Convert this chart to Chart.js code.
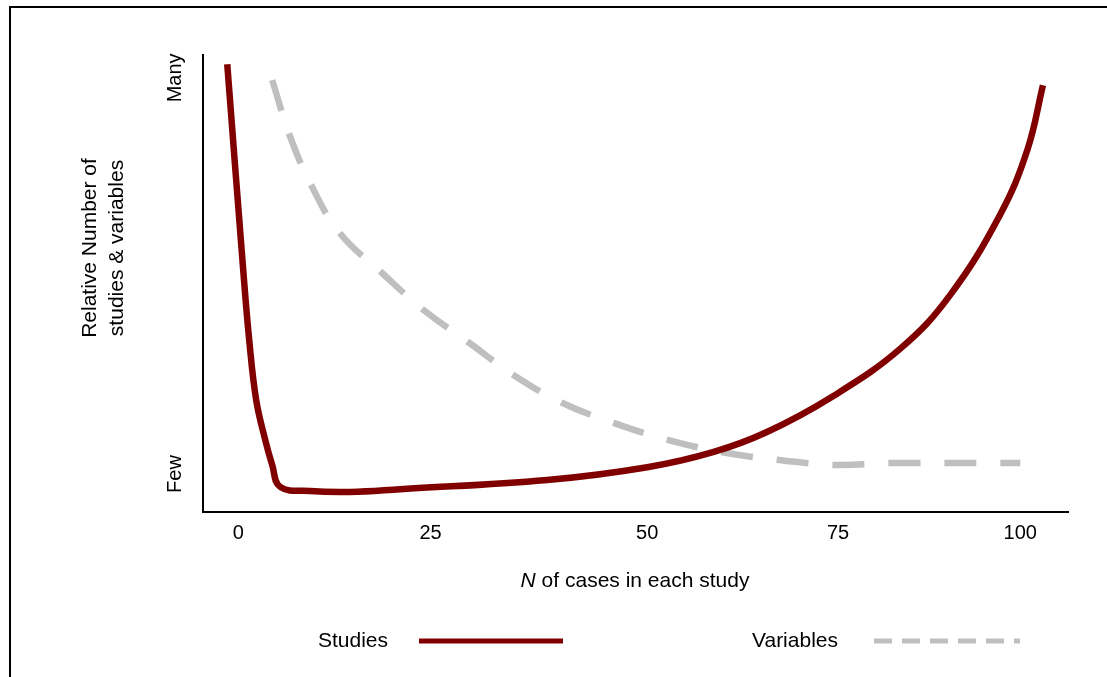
<!DOCTYPE html>
<html lang="en">
<head>
    <meta charset="UTF-8">
    <title>Studies and variables by N of cases</title>
    <script src="https://cdn.jsdelivr.net/npm/chart.js"></script>
    <style>
        body { margin: 0; background: #fff; }
        .frame { position: absolute; left: 9px; top: 6px; width: 1200px; height: 800px; border: 2px solid #000; }
        #chart { position: absolute; left: 0; top: 0; }
    </style>
</head>
<body>
    <div class="frame"></div>
    <canvas id="chart" width="1107" height="677"></canvas>

    <script>
        // Data (x = N of cases, y = relative level 0-100)
        const studiesN = [-1.4, 0.64, 1.41, 2.3, 3.45, 4.35, 5.37, 9.2, 14.3, 20.7, 39.5, 52.3, 60.7, 67.6, 76.1, 84.7, 91.0, 97.4, 100.9, 102.9];
        const studiesLevel = [98.0, 53.0, 37.6, 24.5, 15.8, 10.3, 5.5, 4.6, 4.4, 5.0, 7.0, 9.8, 13.1, 17.5, 25.4, 35.8, 47.4, 65.0, 79.2, 93.4];
        const variablesN = [4.35, 6.65, 9.46, 13.0, 18.4, 23.7, 29.4, 35.2, 41.4, 48.0, 54.9, 62.5, 69.1, 76.1, 83.4, 100];
        const variablesLevel = [94.5, 82.1, 71.1, 61.0, 52.3, 44.2, 37.2, 30.0, 23.9, 19.5, 15.8, 12.9, 11.4, 10.3, 10.7, 10.7];

        const seriesNames = ['Studies', 'Variables'];
        const xTickValues = [0, 24.6, 52.3, 76.7, 100];
        const xTickLabels = ['0', '25', '50', '75', '100'];
        const yTickValues = [95, 8.3];
        const yTickLabels = ['Many', 'Few'];

        const FONT = '"Liberation Sans", Arial, sans-serif';
        Chart.defaults.font.family = FONT;
        Chart.defaults.color = '#000';

        const toPoints = (xs, ys) => xs.map((x, i) => ({ x: x, y: ys[i] }));

        // axis titles, rotated y labels and the text-first legend
        const decorations = {
            id: 'decorations',
            afterDraw(chart) {
                const ctx = chart.ctx;
                const yScale = chart.scales.y;
                ctx.save();
                ctx.fillStyle = '#000';
                ctx.textBaseline = 'middle';

                // y tick labels
                ctx.font = '20px ' + FONT;
                ctx.textAlign = 'center';
                yTickValues.forEach((v, i) => {
                    ctx.save();
                    ctx.translate(175, yScale.getPixelForValue(v));
                    ctx.rotate(-Math.PI / 2);
                    ctx.fillText(yTickLabels[i], 0, 0);
                    ctx.restore();
                });

                // y title
                ctx.font = '21px ' + FONT;
                ctx.save();
                ctx.translate(90, 248);
                ctx.rotate(-Math.PI / 2);
                ctx.fillText('Relative Number of', 0, 0);
                ctx.fillText('studies & variables', 0, 27);
                ctx.restore();

                // x title with italic N
                ctx.textAlign = 'left';
                ctx.font = 'italic 21px ' + FONT;
                const wN = ctx.measureText('N').width;
                ctx.font = '21px ' + FONT;
                const rest = ' of cases in each study';
                const wRest = ctx.measureText(rest).width;
                const x0 = 635 - (wN + wRest) / 2;
                ctx.font = 'italic 21px ' + FONT;
                ctx.fillText('N', x0, 581);
                ctx.font = '21px ' + FONT;
                ctx.fillText(rest, x0 + wN, 581);

                // legend
                const legendItems = [
                    { textX: 318, lineFrom: 419, lineTo: 563, dash: [] },
                    { textX: 752, lineFrom: 874, lineTo: 1020, dash: [18, 10] }
                ];
                legendItems.forEach((item, i) => {
                    const ds = chart.data.datasets[i];
                    ctx.fillStyle = '#000';
                    ctx.fillText(seriesNames[i], item.textX, 641);
                    ctx.beginPath();
                    ctx.strokeStyle = ds.borderColor;
                    ctx.lineWidth = 5;
                    ctx.setLineDash(item.dash);
                    ctx.moveTo(item.lineFrom, 641);
                    ctx.lineTo(item.lineTo, 641);
                    ctx.stroke();
                });
                ctx.restore();
            }
        };

        new Chart(document.getElementById('chart'), {
            type: 'line',
            data: {
                datasets: [
                    {
                        label: seriesNames[0],
                        data: toPoints(studiesN, studiesLevel),
                        borderColor: '#800000',
                        borderWidth: 6.5,
                        pointRadius: 0,
                        tension: 0.4,
                        borderCapStyle: 'butt',
                        borderJoinStyle: 'round'
                    },
                    {
                        label: seriesNames[1],
                        data: toPoints(variablesN, variablesLevel),
                        borderColor: '#bfbfbf',
                        borderWidth: 6.5,
                        borderDash: [32, 24],
                        pointRadius: 0,
                        tension: 0.4,
                        borderCapStyle: 'butt'
                    }
                ]
            },
            options: {
                responsive: false,
                animation: false,
                layout: { padding: { top: 55, right: 39, left: 0, bottom: 0 } },
                plugins: {
                    legend: { display: false },
                    tooltip: { enabled: false }
                },
                scales: {
                    x: {
                        type: 'linear',
                        min: -4.5,
                        max: 106.1,
                        grid: { display: false, drawTicks: false },
                        border: { display: true, color: '#000', width: 2 },
                        afterBuildTicks: s => { s.ticks = xTickValues.map(v => ({ value: v })); },
                        afterFit: s => { s.height = 165; },
                        ticks: {
                            padding: 9,
                            autoSkip: false,
                            maxRotation: 0,
                            font: { size: 20 },
                            callback: (v, i) => xTickLabels[i]
                        }
                    },
                    y: {
                        type: 'linear',
                        min: 0,
                        max: 100,
                        grid: { display: false, drawTicks: false },
                        border: { display: true, color: '#000', width: 2 },
                        ticks: { display: false },
                        afterFit: s => { s.width = 203; }
                    }
                }
            },
            plugins: [decorations]
        });
    </script>
</body>
</html>
